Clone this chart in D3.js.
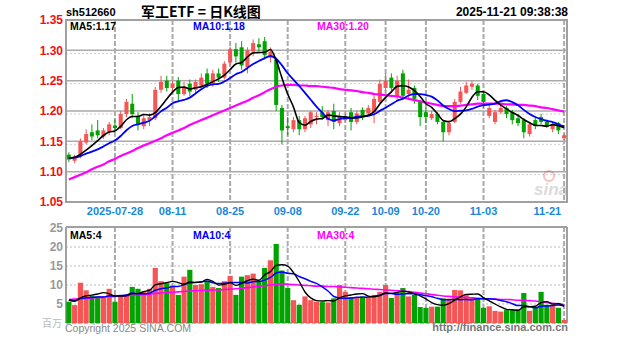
<!DOCTYPE html>
<html><head><meta charset="utf-8">
<script src="https://cdn.jsdelivr.net/npm/d3@7/dist/d3.min.js"></script>
<style>body{margin:0;background:#fff}svg{display:block}</style>
</head><body><svg id="c" width="627" height="342"></svg>
<script>
// ---------- data ----------
const dates = ["2025-07-16","2025-07-17","2025-07-18","2025-07-21","2025-07-22","2025-07-23","2025-07-24","2025-07-25","2025-07-28","2025-07-29","2025-07-30","2025-07-31","2025-08-01","2025-08-04","2025-08-05","2025-08-06","2025-08-07","2025-08-08","2025-08-11","2025-08-12","2025-08-13","2025-08-14","2025-08-15","2025-08-18","2025-08-19","2025-08-20","2025-08-21","2025-08-22","2025-08-25","2025-08-26","2025-08-27","2025-08-28","2025-08-29","2025-09-01","2025-09-02","2025-09-03","2025-09-04","2025-09-05","2025-09-08","2025-09-09","2025-09-10","2025-09-11","2025-09-12","2025-09-15","2025-09-16","2025-09-17","2025-09-18","2025-09-19","2025-09-22","2025-09-23","2025-09-24","2025-09-25","2025-09-26","2025-09-29","2025-09-30","2025-10-09","2025-10-10","2025-10-13","2025-10-14","2025-10-15","2025-10-16","2025-10-17","2025-10-20","2025-10-21","2025-10-22","2025-10-23","2025-10-24","2025-10-27","2025-10-28","2025-10-29","2025-10-30","2025-10-31","2025-11-03","2025-11-04","2025-11-05","2025-11-06","2025-11-07","2025-11-10","2025-11-11","2025-11-12","2025-11-13","2025-11-14","2025-11-17","2025-11-18","2025-11-19","2025-11-20","2025-11-21"];
const open  = [1.128,1.118,1.125,1.148,1.165,1.168,1.158,1.165,1.176,1.172,1.195,1.212,1.192,1.175,1.185,1.188,1.235,1.250,1.238,1.250,1.228,1.245,1.235,1.242,1.262,1.245,1.262,1.255,1.280,1.302,1.305,1.272,1.298,1.310,1.315,1.288,1.285,1.205,1.175,1.170,1.185,1.170,1.178,1.190,1.198,1.185,1.200,1.180,1.185,1.198,1.182,1.202,1.196,1.198,1.215,1.238,1.255,1.225,1.262,1.228,1.238,1.215,1.198,1.188,1.195,1.182,1.165,1.182,1.215,1.230,1.240,1.242,1.228,1.192,1.182,1.198,1.205,1.198,1.188,1.185,1.162,1.185,1.190,1.182,1.170,1.180,1.155];
const high  = [1.132,1.128,1.155,1.170,1.178,1.185,1.172,1.182,1.186,1.200,1.220,1.228,1.198,1.195,1.196,1.240,1.258,1.258,1.250,1.256,1.248,1.252,1.252,1.262,1.270,1.268,1.270,1.282,1.306,1.312,1.315,1.305,1.318,1.320,1.322,1.305,1.288,1.210,1.190,1.190,1.192,1.192,1.200,1.198,1.208,1.202,1.212,1.198,1.196,1.205,1.200,1.206,1.210,1.226,1.252,1.262,1.262,1.258,1.268,1.252,1.242,1.218,1.205,1.200,1.198,1.185,1.185,1.220,1.240,1.248,1.250,1.245,1.232,1.212,1.202,1.210,1.208,1.202,1.195,1.188,1.182,1.190,1.195,1.186,1.182,1.182,1.162];
const low   = [1.116,1.114,1.122,1.145,1.152,1.155,1.154,1.160,1.168,1.170,1.190,1.188,1.168,1.170,1.175,1.185,1.230,1.232,1.232,1.215,1.225,1.225,1.228,1.236,1.238,1.240,1.248,1.252,1.275,1.280,1.268,1.262,1.290,1.298,1.285,1.280,1.200,1.145,1.160,1.165,1.160,1.165,1.172,1.178,1.185,1.175,1.170,1.175,1.182,1.168,1.178,1.185,1.192,1.180,1.212,1.232,1.230,1.215,1.218,1.220,1.212,1.175,1.180,1.185,1.178,1.150,1.160,1.180,1.212,1.228,1.235,1.218,1.205,1.188,1.178,1.195,1.188,1.178,1.175,1.155,1.158,1.170,1.178,1.172,1.165,1.162,1.152];
const close = [1.120,1.125,1.150,1.162,1.158,1.160,1.168,1.178,1.172,1.195,1.215,1.195,1.178,1.188,1.190,1.235,1.248,1.238,1.245,1.228,1.238,1.232,1.248,1.255,1.245,1.262,1.255,1.278,1.302,1.290,1.275,1.300,1.312,1.305,1.292,1.298,1.210,1.168,1.172,1.185,1.170,1.188,1.198,1.192,1.190,1.198,1.182,1.192,1.190,1.182,1.196,1.192,1.205,1.220,1.245,1.250,1.238,1.250,1.225,1.235,1.220,1.190,1.190,1.195,1.182,1.165,1.180,1.215,1.232,1.242,1.245,1.225,1.215,1.205,1.198,1.205,1.195,1.185,1.180,1.165,1.178,1.175,1.182,1.175,1.178,1.168,1.160];
const priorCloses = [1.118,1.125,1.120,1.127,1.122,1.119,1.125,1.128,1.120];
const ma30 = [1.087,1.091,1.095,1.099,1.104,1.108,1.112,1.117,1.121,1.126,1.130,1.134,1.139,1.143,1.147,1.151,1.155,1.160,1.164,1.168,1.172,1.177,1.181,1.185,1.189,1.193,1.197,1.201,1.205,1.209,1.213,1.217,1.222,1.226,1.231,1.236,1.240,1.242,1.243,1.243,1.242,1.242,1.241,1.241,1.240,1.239,1.238,1.236,1.235,1.234,1.233,1.231,1.230,1.228,1.227,1.226,1.225,1.224,1.222,1.220,1.218,1.216,1.214,1.212,1.210,1.208,1.208,1.208,1.209,1.210,1.211,1.212,1.212,1.212,1.212,1.212,1.211,1.211,1.210,1.210,1.209,1.208,1.206,1.205,1.203,1.201,1.199];
const volume = [5.6,4.7,10.6,8.6,7.2,7.0,6.6,9.0,5.6,7.2,7.4,9.5,9.0,8.2,9.0,14.5,11.0,10.5,9.8,7.4,12.2,14.0,10.0,10.2,11.0,9.5,9.2,11.0,12.4,7.4,12.2,12.6,13.0,11.0,14.5,16.5,20.8,13.8,9.2,6.0,4.8,7.0,6.0,5.6,5.5,5.4,6.5,10.0,8.2,6.8,6.6,7.0,6.8,7.4,8.2,10.0,6.6,8.0,9.2,7.0,7.4,4.2,4.0,4.3,4.3,6.5,6.4,8.7,8.6,7.4,6.8,6.6,4.0,4.4,3.2,3.0,3.4,3.4,3.6,7.9,3.2,4.0,8.2,4.8,4.6,4.0,0.8];
const priorVolumes = [6.0,5.5,6.5,6.2,5.8,6.4,6.1,5.9,6.3];
const volMa30 = [6.2,6.3,6.4,6.5,6.6,6.7,6.8,6.9,7.0,7.1,7.2,7.3,7.4,7.5,7.6,7.8,7.9,8.0,8.1,8.2,8.3,8.4,8.5,8.6,8.6,8.7,8.7,8.8,8.9,9.0,9.2,9.3,9.5,9.7,9.8,10.0,10.2,10.3,10.2,10.1,10.0,9.9,9.8,9.7,9.7,9.6,9.6,9.5,9.4,9.3,9.2,9.1,9.0,8.9,8.8,8.7,8.6,8.5,8.4,8.3,8.1,7.9,7.7,7.5,7.3,7.1,7.0,6.9,6.8,6.7,6.6,6.5,6.4,6.3,6.3,6.2,6.2,6.1,6.0,6.0,5.9,5.8,5.6,5.4,5.2,5.0,4.8];
const priceTicks = [1.05,1.10,1.15,1.20,1.25,1.30,1.35];
const volTicks = [5,10,15,20,25];
const dateTicks = ["2025-07-28","2025-08-11","2025-08-25","2025-09-08","2025-09-22","2025-10-09","2025-10-20","2025-11-03","2025-11-21"];
const dateTickLabels = ["2025-07-28","08-11","08-25","09-08","09-22","10-09","10-20","11-03","11-21"];
const maLabels = ["MA5:1.17","MA10:1.18","MA30:1.20"];
const volMaLabels = ["MA5:4","MA10:4","MA30:4"];

// ---------- helpers ----------
function movingAvg(vals, prior, n){
  const all = prior.concat(vals), off = prior.length;
  return vals.map((v,i)=>d3.mean(all.slice(off+i-n+1, off+i+1)));
}
const ma5 = movingAvg(close, priorCloses, 5);
const ma10 = movingAvg(close, priorCloses, 10);
const vma5 = movingAvg(volume, priorVolumes, 5);
const vma10 = movingAvg(volume, priorVolumes, 10);

const RED = "#f55555", GREEN = "#00a300";
const svg = d3.select("#c");
const L = 66, R = 567;
const x = d3.scaleBand().domain(dates).range([L, R]).paddingInner(0.3).paddingOuter(0.15);
const xv = d3.scaleBand().domain(dates).range([L, R]).paddingInner(0.1).paddingOuter(0.05);
const cx = d => x(d) + x.bandwidth()/2;
const y = d3.scaleLinear().domain([1.05, 1.35]).range([202, 20]);
const yv = d3.scaleLinear().domain([0, 25]).range([323, 228]);

// ---------- frames / grid ----------
const grid = svg.append("g");
// main panel horizontal grid
priceTicks.slice(1,-1).forEach((t,k)=>{
  grid.append("line").attr("x1",L).attr("x2",R).attr("y1",y(t)).attr("y2",y(t))
    .attr("stroke","#aaa").attr("stroke-width",1.5);
  grid.append("line").attr("x1",L).attr("x2",R).attr("y1",y(t)+3).attr("y2",y(t)+3)
    .attr("stroke","#ccc").attr("stroke-width",1).attr("stroke-dasharray","2,2");
});
volTicks.slice(0,-1).forEach(t=>{
  grid.append("line").attr("x1",L).attr("x2",R).attr("y1",yv(t)).attr("y2",yv(t))
    .attr("stroke","#bbb").attr("stroke-width",1).attr("stroke-dasharray","2,2");
});
// vertical dashed grid
dateTicks.forEach(d=>{
  [[20,202],[227,323]].forEach(([a,b])=>{
    grid.append("line").attr("x1",cx(d)).attr("x2",cx(d)).attr("y1",a).attr("y2",b)
      .attr("stroke","#aaa").attr("stroke-width",2).attr("stroke-dasharray","5,2");
  });
});
// frames
svg.append("rect").attr("x",L).attr("y",20).attr("width",R-L).attr("height",182)
  .attr("fill","none").attr("stroke","#a0a0a0").attr("stroke-width",2);
svg.append("line").attr("x1",L).attr("x2",R).attr("y1",227).attr("y2",227).attr("stroke","#a0a0a0").attr("stroke-width",2);
svg.append("line").attr("x1",L).attr("x2",L).attr("y1",227).attr("y2",323).attr("stroke","#a0a0a0").attr("stroke-width",2);
svg.append("line").attr("x1",R).attr("x2",R).attr("y1",227).attr("y2",323).attr("stroke","#a0a0a0").attr("stroke-width",2);
svg.append("line").attr("x1",L).attr("x2",R).attr("y1",323).attr("y2",323).attr("stroke","#3a9a3a").attr("stroke-width",1).attr("stroke-dasharray","4,2");

// ---------- sina watermark ----------
const wm = svg.append("g").attr("opacity",0.35);
wm.append("circle").attr("cx",549).attr("cy",176).attr("r",5).attr("fill","none").attr("stroke","#e05050").attr("stroke-width",2);
wm.append("text").attr("x",551).attr("y",195).attr("text-anchor","middle")
  .attr("font-family","Liberation Sans").attr("font-style","italic").attr("font-weight","bold")
  .attr("font-size",17).attr("fill","#999").text("sina");

// ---------- candles ----------
const cg = svg.append("g");
dates.forEach((d,i)=>{
  const up = close[i] >= open[i], col = up ? RED : GREEN;
  cg.append("line").attr("x1",cx(d)).attr("x2",cx(d)).attr("y1",y(high[i])).attr("y2",y(low[i]))
    .attr("stroke",col).attr("stroke-width",1);
  const top = y(Math.max(open[i],close[i])), bot = y(Math.min(open[i],close[i]));
  cg.append("rect").attr("x",x(d)).attr("width",x.bandwidth()).attr("y",top)
    .attr("height",Math.max(1,bot-top)).attr("fill",col);
});

// ---------- MA lines ----------
function maLine(g, vals, ys, color, w){
  g.append("path").datum(vals).attr("fill","none").attr("stroke",color).attr("stroke-width",w)
    .attr("d", d3.line().x((v,i)=>cx(dates[i])).y(v=>ys(v)).curve(d3.curveMonotoneX));
}
const mg = svg.append("g");
maLine(mg, ma30, y, "#ff00ff", 2.2);
maLine(mg, ma10, y, "#0000ff", 1.8);
maLine(mg, ma5, y, "#000", 1.6);

// ---------- volume ----------
const vg = svg.append("g");
dates.forEach((d,i)=>{
  const up = close[i] >= open[i];
  vg.append("rect").attr("x",xv(d)).attr("width",xv.bandwidth()).attr("y",yv(volume[i]))
    .attr("height",yv(0)-yv(volume[i])).attr("fill", up ? RED : GREEN);
});
maLine(vg, volMa30, yv, "#ff00ff", 1.6);
maLine(vg, vma10, yv, "#0000ff", 1.5);
maLine(vg, vma5, yv, "#000", 1.4);

// ---------- axes ----------
const yAxis = svg.append("g").attr("transform",`translate(${L-2},0)`)
  .call(d3.axisLeft(y).tickValues(priceTicks).tickFormat(d3.format(".2f")).tickSize(0).tickPadding(1));
yAxis.select(".domain").remove();
yAxis.selectAll("text").attr("fill","#ee1111").attr("font-family","Liberation Sans")
  .attr("font-weight","bold").attr("font-size",12);

const vAxis = svg.append("g").attr("transform",`translate(${L-2},0)`)
  .call(d3.axisLeft(yv).tickValues(volTicks).tickSize(0).tickPadding(1));
vAxis.select(".domain").remove();
vAxis.selectAll("text").attr("fill","#999").attr("font-family","Liberation Sans")
  .attr("font-weight","bold").attr("font-size",12);

const xAxis = svg.append("g").attr("transform","translate(0,204)")
  .call(d3.axisBottom(x).tickValues(dateTicks).tickFormat((d,k)=>dateTickLabels[k]).tickSize(0).tickPadding(3));
xAxis.select(".domain").remove();
xAxis.selectAll("text").attr("fill","#1a88d8").attr("font-family","Liberation Sans")
  .attr("font-weight","bold").attr("font-size",11);
xAxis.selectAll(".tick").filter((d,k)=>k===dateTicks.length-1).select("text")
  .attr("text-anchor","end").attr("dx",-3);

// ---------- texts ----------
const T = (px,py,txt,opt={}) => svg.append("text").attr("x",px).attr("y",py).text(txt)
  .attr("font-family",opt.ff||"Liberation Sans").attr("font-size",opt.fs||11)
  .attr("font-weight",opt.fw||"bold").attr("fill",opt.fill||"#000")
  .attr("text-anchor",opt.anchor||"start");
T(66,16,"sh512660",{fs:11});
T(141,17,"军工ETF = 日K线图",{fs:14,ff:"Noto Sans CJK SC"});
T(568,16,"2025-11-21 09:38:38",{fs:12,anchor:"end"});
const maCols = ["#000","#0000ff","#ff00ff"], maX = [70,193,317];
maLabels.forEach((t,k)=>T(maX[k],30,t,{fs:10.5,fill:maCols[k]}));
volMaLabels.forEach((t,k)=>T(maX[k],239,t,{fs:10.5,fill:maCols[k]}));
T(62,327,"百万",{fs:10,fill:"#bbb",anchor:"end",ff:"Noto Sans CJK SC",fw:"normal"});
T(65,332,"Copyright 2025 SINA.COM",{fs:10.5,fill:"#888",fw:"normal"});
T(568,331,"http://finance.sina.com.cn",{fs:11,fill:"#777",anchor:"end"});
</script></body></html>
